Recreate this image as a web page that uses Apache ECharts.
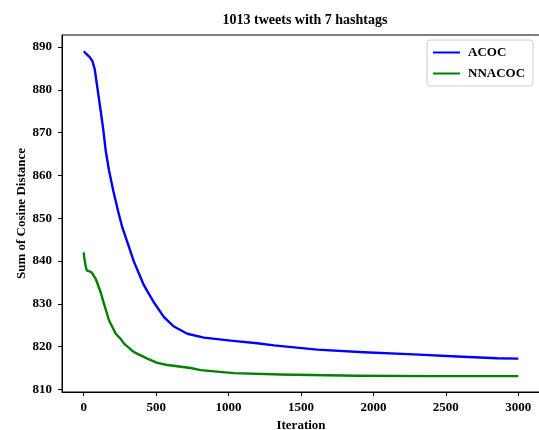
<!DOCTYPE html>
<html>
<head>
<meta charset="utf-8">
<script src="https://cdn.jsdelivr.net/npm/echarts@6/dist/echarts.min.js"></script>
<style>
  html, body { margin: 0; padding: 0; background: #fff; }
  #chart { width: 539px; height: 430px; }
</style>
</head>
<body>
<div id="chart"></div>
<script>
// Best-so-far objective per iteration for the two clustering algorithms
const acocIter = [0, 20, 40, 60, 76, 94, 117, 136, 152, 175, 204, 237, 266, 297, 347, 416, 485, 554, 623, 715, 830, 1014, 1198, 1313, 1612, 1933, 2278, 2577, 2853, 3000];
const acocVals = [889.0, 888.3, 887.7, 886.7, 884.8, 880.5, 875.1, 870.4, 865.7, 861.1, 856.4, 851.7, 847.9, 844.8, 839.8, 834.3, 830.3, 826.9, 824.7, 823.0, 822.1, 821.4, 820.8, 820.3, 819.3, 818.7, 818.2, 817.7, 817.3, 817.2];

const nnacocIter = [0, 5, 12, 21, 53, 83, 117, 140, 175, 221, 255, 278, 347, 439, 508, 577, 738, 807, 1037, 1359, 1887, 2400, 3000];
const nnacocVals = [842.0, 840.5, 839.0, 837.8, 837.4, 835.8, 832.7, 830.0, 826.1, 823.0, 821.8, 820.7, 818.7, 817.2, 816.2, 815.7, 815.0, 814.5, 813.8, 813.5, 813.2, 813.1, 813.1];

const xTicks = [0, 500, 1000, 1500, 2000, 2500, 3000];
const yTicks = [810, 820, 830, 840, 850, 860, 870, 880, 890];

const seriesNames = ['ACOC', 'NNACOC'];
const seriesColors = ['#0000ff', '#008000'];

const FONT = '"Liberation Serif", "DejaVu Serif", serif';

function pairs(xs, ys) { return xs.map((x, i) => [x, ys[i]]); }

const chart = echarts.init(document.getElementById('chart'), null, { renderer: 'canvas' });

const labelStyle = { fontFamily: FONT, fontWeight: 'bold', fontSize: 13, color: '#000' };

chart.setOption({
  animation: false,
  backgroundColor: '#fff',
  title: {
    text: '1013 tweets with 7 hashtags',
    left: 300,
    top: 8,
    textAlign: 'center',
    textStyle: { fontFamily: FONT, fontWeight: 'bold', fontSize: 14, color: '#000' }
  },
  legend: {
    data: seriesNames,
    orient: 'vertical',
    left: 427,
    top: 40,
    padding: [5, 8, 5, 6],
    itemGap: 6,
    icon: 'rect',
    itemWidth: 27,
    itemHeight: 2,
    backgroundColor: '#fff',
    borderColor: '#cccccc',
    borderWidth: 1,
    borderRadius: 3,
    textStyle: { fontFamily: FONT, fontWeight: 'bold', fontSize: 13, color: '#000', lineHeight: 15, padding: [0, 0, 0, 3] }
  },
  grid: {
    left: 62, right: -1, top: 35, bottom: 38,
    outerBoundsMode: 'none',
    containLabel: false,
    show: true,
    borderColor: '#000',
    borderWidth: 1,
    backgroundColor: 'transparent'
  },
  xAxis: {
    type: 'value',
    min: -150,
    max: 3150,
    name: 'Iteration',
    nameLocation: 'middle',
    nameGap: 26,
    nameTextStyle: labelStyle,
    axisLine: { show: true, onZero: false, lineStyle: { color: '#000', width: 1 } },
    axisTick: { show: true, length: 4, customValues: xTicks, lineStyle: { color: '#000' } },
    axisLabel: Object.assign({ customValues: xTicks, margin: 9, formatter: v => String(v) }, labelStyle),
    splitLine: { show: false }
  },
  yAxis: {
    type: 'value',
    min: 809.4,
    max: 892.8,
    name: 'Sum of Cosine Distance',
    nameLocation: 'middle',
    nameGap: 34,
    nameMoveOverlap: false,
    nameTextStyle: labelStyle,
    axisLine: { show: true, onZero: false, lineStyle: { color: '#000', width: 1 } },
    axisTick: { show: true, length: 4, customValues: yTicks, lineStyle: { color: '#000' } },
    axisLabel: Object.assign({ customValues: yTicks, margin: 10, formatter: v => String(v) }, labelStyle),
    splitLine: { show: false }
  },
  series: [
    {
      name: seriesNames[0],
      type: 'line',
      data: pairs(acocIter, acocVals),
      symbol: 'none',
      color: seriesColors[0],
      lineStyle: { width: 2.4, color: seriesColors[0], join: 'round' }
    },
    {
      name: seriesNames[1],
      type: 'line',
      data: pairs(nnacocIter, nnacocVals),
      symbol: 'none',
      color: seriesColors[1],
      lineStyle: { width: 2.4, color: seriesColors[1], join: 'round' }
    }
  ]
});
</script>
</body>
</html>
